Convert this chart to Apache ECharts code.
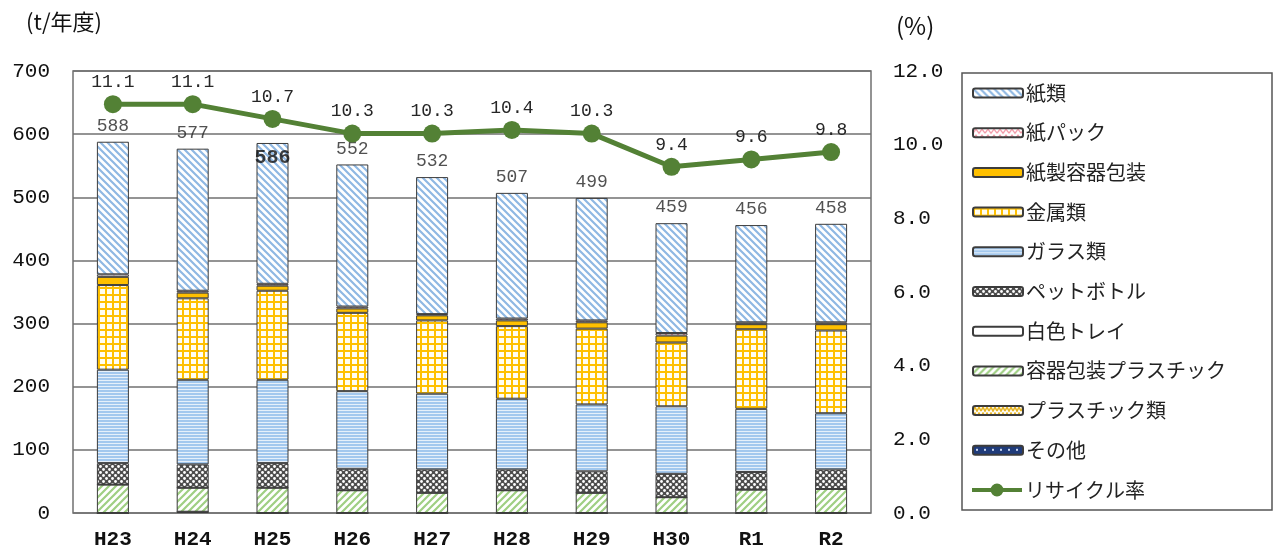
<!DOCTYPE html>
<html>
<head>
<meta charset="utf-8">
<style>
  html, body { margin: 0; padding: 0; background: #fff; }
  #chart { width: 1276px; height: 554px; }
</style>
<script src="https://cdn.jsdelivr.net/npm/echarts@6/dist/echarts.min.js"></script>
</head>
<body>
<div id="chart"></div>
<script>
// 年度
var years = ['H23', 'H24', 'H25', 'H26', 'H27', 'H28', 'H29', 'H30', 'R1', 'R2'];

// 品目別資源化量 (t/年度)
var paper        = [210, 225, 223, 225, 217, 199, 194, 174, 154, 156]; // 紙類
var paperPack    = [4, 3, 3, 3, 2, 3, 3, 4, 3, 3];                     // 紙パック
var paperCont    = [13, 9, 8, 7, 8, 9, 10, 11, 8, 10];                 // 紙製容器包装
var metal        = [134, 129, 141, 124, 116, 115, 120, 101, 126, 131]; // 金属類
var glass        = [148, 134, 132, 123, 120, 112, 106, 107, 100, 89];  // ガラス類
var pet          = [34, 37, 39, 34, 37, 33, 34, 37, 28, 31];           // ペットボトル
var whiteTray    = [0, 0, 0, 0, 0, 0, 0, 0, 0, 0];                     // 白色トレイ
var plasticPack  = [45, 38, 40, 36, 32, 36, 32, 25, 37, 38];           // 容器包装プラスチック
var plastic      = [0, 0, 0, 0, 0, 0, 0, 0, 0, 0];                     // プラスチック類
var other        = [0, 2, 0, 0, 0, 0, 0, 0, 0, 0];                     // その他

// 合計
var totals = [588, 577, 586, 552, 532, 507, 499, 459, 456, 458];

// リサイクル率 (%)
var rate = [11.1, 11.1, 10.7, 10.3, 10.3, 10.4, 10.3, 9.4, 9.6, 9.8];

// 軸目盛
var leftTicks = { min: 0, max: 700, interval: 100 };
var rightTicks = { min: 0, max: 12, interval: 2 };

// ---- hatch patterns ----
function pattern(w, h, draw) {
  var c = document.createElement('canvas');
  c.width = w; c.height = h;
  var ctx = c.getContext('2d');
  draw(ctx, w, h);
  return { image: c, repeat: 'repeat' };
}
function diag(color, back, dir, s, lw) {
  return pattern(s, s, function (ctx) {
    ctx.fillStyle = back; ctx.fillRect(0, 0, s, s);
    ctx.strokeStyle = color; ctx.lineWidth = lw;
    ctx.beginPath();
    if (dir > 0) { // "\"
      ctx.moveTo(-1, -1); ctx.lineTo(s + 1, s + 1);
      ctx.moveTo(-2, s - 2); ctx.lineTo(2, s + 2);
      ctx.moveTo(s - 2, -2); ctx.lineTo(s + 2, 2);
    } else {       // "/"
      ctx.moveTo(s + 1, -1); ctx.lineTo(-1, s + 1);
      ctx.moveTo(2, -2); ctx.lineTo(-2, 2);
      ctx.moveTo(s + 2, s - 2); ctx.lineTo(s - 2, s + 2);
    }
    ctx.stroke();
  });
}
var fillPaper = diag('#8fb8e3', '#ffffff', 1, 7, 2.2);
var fillPlasticPack = diag('#9fcf83', '#ffffff', -1, 7, 2.2);
var fillPack = pattern(12, 6, function (ctx) {
  ctx.fillStyle = '#fff'; ctx.fillRect(0, 0, 12, 6);
  ctx.strokeStyle = '#f08a9a'; ctx.lineWidth = 1.2;
  ctx.beginPath(); ctx.moveTo(0, 5); ctx.lineTo(3, 1); ctx.lineTo(6, 5); ctx.lineTo(9, 1); ctx.lineTo(12, 5); ctx.stroke();
});
var fillMetal = pattern(7, 7, function (ctx) {
  ctx.fillStyle = '#ffc000'; ctx.fillRect(0, 0, 7, 7);
  ctx.fillStyle = '#fffdf2'; ctx.fillRect(2, 2, 5, 5);
});
var fillGlass = pattern(4, 3, function (ctx) {
  ctx.fillStyle = '#a3c8ee'; ctx.fillRect(0, 0, 4, 3);
  ctx.fillStyle = '#e6f0fa'; ctx.fillRect(0, 2, 4, 1);
});
var fillPet = pattern(6, 6, function (ctx) {
  ctx.fillStyle = '#4d4d4d'; ctx.fillRect(0, 0, 6, 6);
  ctx.fillStyle = '#ffffff';
  ctx.beginPath(); ctx.arc(1.5, 1.5, 1.4, 0, Math.PI * 2); ctx.fill();
  ctx.beginPath(); ctx.arc(4.5, 4.5, 1.4, 0, Math.PI * 2); ctx.fill();
});
var fillPlastic = pattern(8, 6, function (ctx) {
  ctx.fillStyle = '#fff'; ctx.fillRect(0, 0, 8, 6);
  ctx.strokeStyle = '#e6b422'; ctx.lineWidth = 1.6;
  ctx.beginPath(); ctx.moveTo(0, 5); ctx.lineTo(2, 1); ctx.lineTo(4, 5); ctx.lineTo(6, 1); ctx.lineTo(8, 5); ctx.stroke();
});
var fillOther = pattern(8, 8, function (ctx) {
  ctx.fillStyle = '#1f3b7a'; ctx.fillRect(0, 0, 8, 8);
  ctx.fillStyle = '#c9d6f0'; ctx.fillRect(3, 3, 2, 2);
});

var numFont = '"Liberation Mono", monospace';
var jpFont = '"Noto Sans CJK JP", sans-serif';
var edge = '#3c3c3c';
var rateColor = '#538135';

function barSeries(name, data, color) {
  return {
    name: name, type: 'bar', stack: 'total', data: data, barWidth: 32,
    itemStyle: { color: color, borderColor: edge, borderWidth: 1 },
    emphasis: { disabled: true }
  };
}

// stacked from bottom to top
var series = [
  barSeries('その他', other, fillOther),
  barSeries('プラスチック類', plastic, fillPlastic),
  barSeries('容器包装プラスチック', plasticPack, fillPlasticPack),
  barSeries('白色トレイ', whiteTray, '#ffffff'),
  barSeries('ペットボトル', pet, fillPet),
  barSeries('ガラス類', glass, fillGlass),
  barSeries('金属類', metal, fillMetal),
  barSeries('紙製容器包装', paperCont, '#ffc000'),
  barSeries('紙パック', paperPack, fillPack),
  barSeries('紙類', paper, fillPaper),
  {
    name: '合計', type: 'scatter', symbolSize: 1, z: 5,
    itemStyle: { color: 'rgba(0,0,0,0)' },
    data: totals.map(function (v, i) {
      var item = { value: v };
      if (years[i] === 'H25') {
        item.label = { position: 'bottom', distance: 4, fontWeight: 'bold', fontSize: 20, color: '#111' };
      }
      return item;
    }),
    label: {
      show: true, position: 'top', distance: 6,
      fontFamily: numFont, fontSize: 18, color: '#262626'
    },
    silent: true
  },
  {
    name: 'リサイクル率', type: 'line', yAxisIndex: 1, data: rate, z: 10,
    symbol: 'circle', symbolSize: 18,
    lineStyle: { color: rateColor, width: 5 },
    itemStyle: { color: rateColor },
    label: {
      show: true, position: 'top', distance: 4,
      fontFamily: numFont, fontSize: 18, color: '#262626',
      formatter: function (p) { return p.value.toFixed(1); }
    }
  }
];

var legendText = { fontFamily: jpFont, fontSize: 20, color: '#222', lineHeight: 20, padding: [0, 0, 0, -2] };

var chart = echarts.init(document.getElementById('chart'), null, { renderer: 'canvas' });
chart.setOption({
  animation: false,
  backgroundColor: '#fff',
  grid: { left: 73, right: 405, top: 71, bottom: 41, show: true, borderColor: '#707070', borderWidth: 1.5, backgroundColor: 'transparent' },
  xAxis: {
    type: 'category', data: years,
    axisLine: { show: false }, axisTick: { show: false },
    axisLabel: { fontFamily: numFont, fontSize: 21, fontWeight: 'bold', color: '#111', margin: 16 }
  },
  yAxis: [
    {
      type: 'value', min: leftTicks.min, max: leftTicks.max, interval: leftTicks.interval,
      axisLine: { show: false }, axisTick: { show: false },
      splitLine: { lineStyle: { color: '#707070', width: 1.5 } },
      axisLabel: { fontFamily: numFont, fontSize: 21, color: '#111', margin: 23 }
    },
    {
      type: 'value', min: rightTicks.min, max: rightTicks.max, interval: rightTicks.interval,
      axisLine: { show: false }, axisTick: { show: false }, splitLine: { show: false },
      axisLabel: { fontFamily: numFont, fontSize: 21, color: '#111', margin: 22,
        formatter: function (v) { return v.toFixed(1); } }
    }
  ],
  legend: [
    {
      orient: 'vertical', left: 972, top: 83, padding: 0,
      itemWidth: 50, itemHeight: 9, itemGap: 19.7,
      data: ['紙類', '紙パック', '紙製容器包装', '金属類', 'ガラス類', 'ペットボトル', '白色トレイ', '容器包装プラスチック', 'プラスチック類', 'その他'],
      textStyle: legendText,
      selectedMode: false
    },
    {
      orient: 'vertical', left: 972, top: 480, padding: 0,
      itemWidth: 50, itemHeight: 13,
      data: [{
        name: 'リサイクル率',
        icon: 'path://M0,4.5 L50,4.5 L50,8.5 L0,8.5 Z M31.5,6.5 A6.5,6.5 0 1 1 18.5,6.5 A6.5,6.5 0 1 1 31.5,6.5 Z'
      }],
      textStyle: legendText,
      selectedMode: false
    }
  ],
  graphic: [
    { type: 'text', left: 26, top: 11, style: { text: '(t/年度)', font: '22px ' + jpFont, fill: '#111' } },
    { type: 'text', left: 896, top: 14, style: { text: '(%)', font: '24px ' + jpFont, fill: '#111' } },
    { type: 'rect', shape: { x: 962, y: 73, width: 310, height: 437 }, style: { fill: 'none', stroke: '#555', lineWidth: 1.5 }, silent: true }
  ],
  series: series
});
</script>
</body>
</html>
